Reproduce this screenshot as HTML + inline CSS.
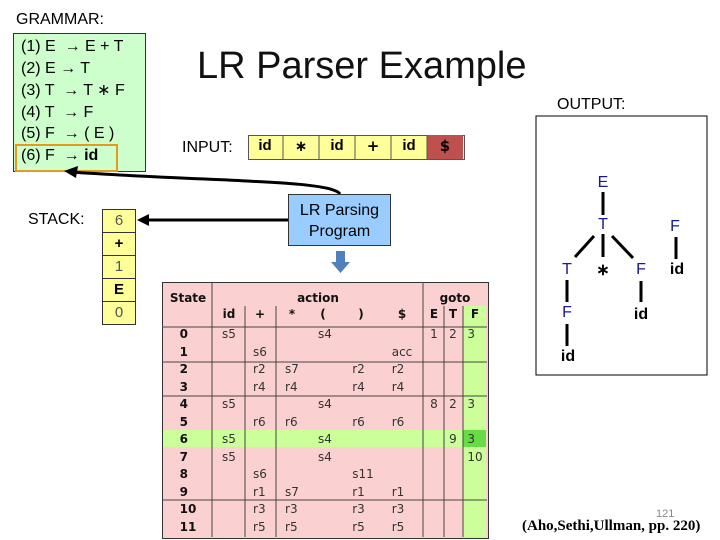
<!DOCTYPE html>
<html><head><style>
body{margin:0;width:720px;height:540px;position:relative;background:#fff;font-family:"Liberation Sans",sans-serif;overflow:hidden}
.a{position:absolute}
.t{position:absolute;font-family:"DejaVu Sans",sans-serif;font-size:12px;color:#333;transform:translateX(-50%);line-height:14px}
.b{font-weight:bold;color:#111}
.n{position:absolute;font-size:16px;line-height:16px;transform:translate(-50%,-50%);color:#1a1a8c}
.k{color:#000;font-weight:bold}
.g{position:absolute;left:21px;font-size:16px;line-height:18px;white-space:pre}
</style></head><body>
<div class="a" style="left:16px;top:11px;font-size:16px">GRAMMAR:</div>
<div class="a" style="left:13px;top:33px;width:131px;height:137px;background:#ccffcc;border:1px solid #333"></div>
<div class="g" style="top:38px">(1) E  → E + T</div>
<div class="g" style="top:60px">(2) E → T</div>
<div class="g" style="top:82px">(3) T  → T ∗ F</div>
<div class="g" style="top:104px">(4) T  → F</div>
<div class="g" style="top:125px">(5) F  → ( E )</div>
<div class="g" style="top:147px">(6) F  → <b>id</b></div>
<div class="a" style="left:15px;top:144px;width:99px;height:24px;border:2px solid #e39a1e"></div>
<div class="a" style="left:197px;top:45px;font-size:38px;color:#111">LR Parser Example</div>
<div class="a" style="left:182px;top:139px;font-size:16px">INPUT:</div>
<div class="a" style="left:248px;top:135px;width:215px;height:23px;background:#ffff99;border:1px solid #555"></div>
<div class="a" style="left:427px;top:135px;width:36px;height:24px;background:#c0504d"></div>
<svg class="a" style="left:0;top:0" width="720" height="540">
<g stroke="#555" stroke-width="1"><line x1="283" y1="135" x2="283" y2="159"/><line x1="319" y1="135" x2="319" y2="159"/><line x1="355" y1="135" x2="355" y2="159"/><line x1="391" y1="135" x2="391" y2="159"/><line x1="427" y1="135" x2="427" y2="159"/></g>
<path d="M340 194 C330 180 220 182 70 172" fill="none" stroke="#000" stroke-width="3"/>
<polygon points="64,171 78,166 76,178" fill="#000"/>
<line x1="288" y1="220" x2="145" y2="220" stroke="#000" stroke-width="3"/>
<polygon points="137,220 149,214 149,226" fill="#000"/>
<rect x="336" y="251" width="9" height="12" fill="#4f81bd"/>
<polygon points="331,262 350,262 340.5,273" fill="#4f81bd"/>
<rect x="536" y="116" width="171" height="259" fill="none" stroke="#000"/>
<g stroke="#000" stroke-width="3"><line x1="603" y1="192" x2="603" y2="215"/><line x1="603" y1="234" x2="603" y2="257"/><line x1="594" y1="236" x2="575" y2="257"/><line x1="612" y1="236" x2="633" y2="258"/><line x1="567" y1="280" x2="567" y2="302"/><line x1="567" y1="324" x2="567" y2="346"/><line x1="641" y1="281" x2="641" y2="302"/><line x1="676" y1="237" x2="676" y2="259"/></g>
</svg>
<div class="t" style="left:265px;top:139px;font-size:15px;font-family:'Liberation Sans';font-weight:bold;color:#000">id</div>
<div class="t" style="left:301px;top:139px;font-size:15px;font-weight:bold;color:#000">∗</div>
<div class="t" style="left:337px;top:139px;font-size:15px;font-family:'Liberation Sans';font-weight:bold;color:#000">id</div>
<div class="t" style="left:373px;top:139px;font-size:15px;font-weight:bold;color:#000">+</div>
<div class="t" style="left:409px;top:139px;font-size:15px;font-family:'Liberation Sans';font-weight:bold;color:#000">id</div>
<div class="t" style="left:445px;top:139px;font-size:15px;font-weight:bold;color:#000">$</div>
<div class="a" style="left:288px;top:194px;width:103px;height:52px;background:#99ccff;border:1px solid #333;font-size:16px;text-align:center;line-height:21px;padding-top:5px;box-sizing:border-box">LR Parsing<br>Program</div>
<div class="a" style="left:28px;top:211px;font-size:16px">STACK:</div>
<div class="a" style="left:102px;top:209px;width:34px;font-size:15px;text-align:center">
<div style="height:22px;line-height:22px;background:#ffff99;border:1px solid #333;color:#555">6</div>
<div style="height:22px;line-height:22px;background:#ffff99;border:1px solid #333;border-top:0;font-weight:bold">+</div>
<div style="height:22px;line-height:22px;background:#ffff99;border:1px solid #333;border-top:0;color:#555">1</div>
<div style="height:22px;line-height:22px;background:#ffff99;border:1px solid #333;border-top:0;font-weight:bold">E</div>
<div style="height:22px;line-height:22px;background:#ffff99;border:1px solid #333;border-top:0;color:#555">0</div>
</div>
<div class="a" style="left:557px;top:96px;font-size:16px">OUTPUT:</div>
<div class="n" style="left:603px;top:183px">E</div>
<div class="n" style="left:603px;top:225px">T</div>
<div class="n" style="left:675px;top:227px">F</div>
<div class="n" style="left:567px;top:270px">T</div>
<div class="n k" style="left:603px;top:271px">∗</div>
<div class="n" style="left:641px;top:270px">F</div>
<div class="n k" style="left:677px;top:270px">id</div>
<div class="n" style="left:567px;top:313px">F</div>
<div class="n k" style="left:641px;top:315px">id</div>
<div class="n k" style="left:568px;top:357px">id</div>
<div class="a" style="left:162px;top:282px;width:325px;height:255px;background:#fbd0d0;border:1px solid #333"></div>
<div class="a" style="left:463px;top:306px;width:23px;height:231px;background:#ccff99"></div>
<div class="a" style="left:163px;top:430px;width:323px;height:17px;background:#ccff99"></div>
<div class="a" style="left:463px;top:430px;width:23px;height:17px;background:#66dd44"></div>
<svg class="a" style="left:0;top:0" width="720" height="540">
<g stroke="#444" stroke-width="1">
<line x1="212" y1="282" x2="212" y2="537"/><line x1="423" y1="282" x2="423" y2="537"/>
<line x1="245" y1="306" x2="245" y2="537"/><line x1="276" y1="306" x2="276" y2="537"/>
<line x1="444" y1="306" x2="444" y2="537"/><line x1="463" y1="306" x2="463" y2="537"/>
<line x1="162" y1="327" x2="487" y2="327"/><line x1="162" y1="362" x2="487" y2="362"/>
<line x1="162" y1="396" x2="487" y2="396"/><line x1="162" y1="500" x2="487" y2="500"/>
</g></svg>
<div class="t b" style="left:188px;top:291px;font-weight:bold">State</div>
<div class="t b" style="left:318px;top:291px;font-weight:bold">action</div>
<div class="t b" style="left:455px;top:291px;font-weight:bold">goto</div>
<div class="t b" style="left:229px;top:307px">id</div><div class="t b" style="left:260px;top:307px">+</div><div class="t b" style="left:292px;top:307px">*</div><div class="t b" style="left:323px;top:307px">(</div><div class="t b" style="left:361px;top:307px">)</div><div class="t b" style="left:402px;top:307px">$</div><div class="t b" style="left:434px;top:307px">E</div><div class="t b" style="left:453px;top:307px">T</div><div class="t b" style="left:475px;top:307px">F</div>
<div class="t b" style="left:188px;top:326px;line-height:17.5px">0<br>1<br>2<br>3<br>4<br>5<br>6<br>7<br>8<br>9<br>10<br>11</div>
<div class="t" style="left:229px;top:326px;line-height:17.5px">s5<br>&nbsp;<br>&nbsp;<br>&nbsp;<br>s5<br>&nbsp;<br>s5<br>s5</div>
<div class="t" style="left:260px;top:326px;line-height:17.5px">&nbsp;<br>s6<br>r2<br>r4<br>&nbsp;<br>r6<br>&nbsp;<br>&nbsp;<br>s6<br>r1<br>r3<br>r5</div>
<div class="t" style="left:292px;top:326px;line-height:17.5px">&nbsp;<br>&nbsp;<br>s7<br>r4<br>&nbsp;<br>r6<br>&nbsp;<br>&nbsp;<br>&nbsp;<br>s7<br>r3<br>r5</div>
<div class="t" style="left:325px;top:326px;line-height:17.5px">s4<br>&nbsp;<br>&nbsp;<br>&nbsp;<br>s4<br>&nbsp;<br>s4<br>s4</div>
<div class="t" style="left:363px;top:326px;line-height:17.5px">&nbsp;<br>&nbsp;<br>r2<br>r4<br>&nbsp;<br>r6<br>&nbsp;<br>&nbsp;<br>s11<br>r1<br>r3<br>r5</div>
<div class="t" style="left:402px;top:326px;line-height:17.5px">&nbsp;<br>acc<br>r2<br>r4<br>&nbsp;<br>r6<br>&nbsp;<br>&nbsp;<br>&nbsp;<br>r1<br>r3<br>r5</div>
<div class="t" style="left:434px;top:326px;line-height:17.5px">1<br>&nbsp;<br>&nbsp;<br>&nbsp;<br>8</div>
<div class="t" style="left:453px;top:326px;line-height:17.5px">2<br>&nbsp;<br>&nbsp;<br>&nbsp;<br>2<br>&nbsp;<br>9</div>
<div class="t" style="left:475px;top:326px;line-height:17.5px">3<br>&nbsp;<br>&nbsp;<br>&nbsp;<br>3<br>&nbsp;<br>3<br>10</div>
<div class="a" style="left:656px;top:508px;font-size:11px;color:#888">121</div>
<div class="a" style="left:522px;top:518px;font-size:15px;font-family:'Liberation Serif',serif;font-weight:bold">(Aho,Sethi,Ullman, pp. 220)</div>
</body></html>
